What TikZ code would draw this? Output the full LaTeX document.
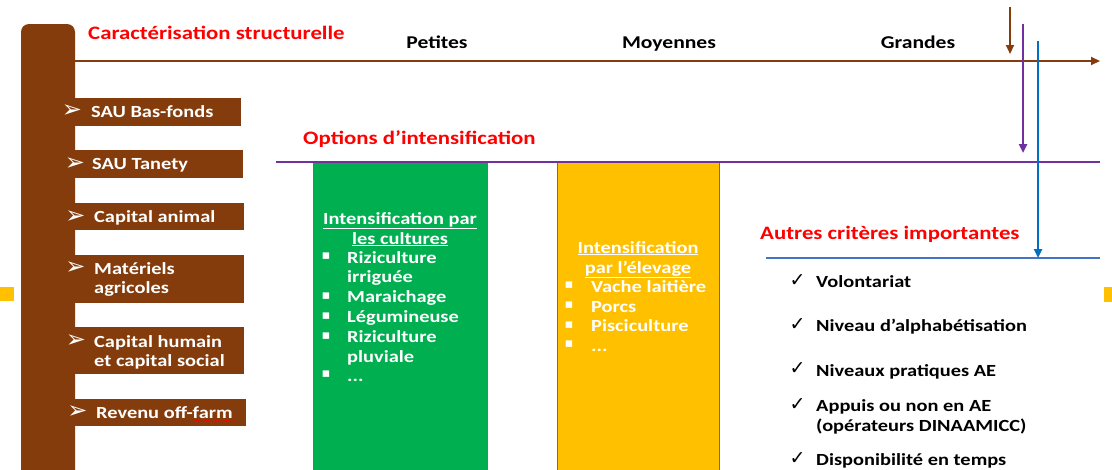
\documentclass[tikz,border=0pt]{standalone}
\usepackage{fontspec}
\setmainfont{Carlito}[FakeStretch=1.2]
\newfontfamily\symfont{DejaVu Sans}
\usetikzlibrary{arrows.meta}
\usetikzlibrary{decorations.pathmorphing}
\pgfdeclarelayer{edgelayer}
\pgfdeclarelayer{nodelayer}
\pgfsetlayers{edgelayer,nodelayer,main}
\definecolor{brun}{HTML}{843C0C}
\definecolor{violetopt}{HTML}{7030A0}
\definecolor{bleuaxe}{HTML}{0070C0}
\definecolor{bleuligne}{HTML}{4472C4}
\definecolor{vertcult}{HTML}{00B050}
\definecolor{jauneelev}{HTML}{FFC000}
\tikzstyle{none} = []
\tikzstyle{titre rouge}=[text=red, font=\bfseries\fontsize{19}{23}\selectfont, inner sep=0pt, anchor=base west]
\tikzstyle{classe}=[font=\bfseries\fontsize{18}{22}\selectfont, inner sep=0pt, anchor=base]
\tikzstyle{blanc}=[text=white, font=\bfseries\fontsize{17}{20}\selectfont, inner sep=0pt, anchor=base west]
\tikzstyle{blanc centre}=[text=white, font=\bfseries\fontsize{17}{20}\selectfont, inner sep=0pt, anchor=base]
\tikzstyle{noir}=[text=black, font=\bfseries\fontsize{17}{20}\selectfont, inner sep=0pt, anchor=base west]
\tikzstyle{fleche}=[text=white, font=\symfont\fontsize{24}{24}\selectfont, inner sep=0pt]
\tikzstyle{carre}=[text=white, font=\symfont\fontsize{13}{13}\selectfont, inner sep=0pt]
\tikzstyle{coche}=[text=black, font=\symfont\fontsize{19}{19}\selectfont, inner sep=0pt]
\tikzstyle{axe brun}=[-{Triangle[length=9pt,width=8pt]}, line width=2pt, brun]
\tikzstyle{axe violet}=[-{Triangle[length=9pt,width=8pt]}, line width=2.5pt, violetopt]
\tikzstyle{axe bleu}=[-{Triangle[length=9pt,width=8pt]}, line width=2.5pt, bleuaxe]

\begin{document}
\begin{tikzpicture}[x=1pt, y=-1pt]
	\useasboundingbox (0, 0) rectangle (1112, 469);
	\begin{pgfonlayer}{edgelayer}
		% barre et rubriques
		\fill [brun, rounded corners=8pt] (21, 24) rectangle (75, 490);
		\fill [brun] (75, 98) rectangle (241, 126);
		\fill [brun] (75, 150) rectangle (243, 178);
		\fill [brun] (75, 203) rectangle (244, 230);
		\fill [brun] (75, 255) rectangle (244, 303);
		\fill [brun] (75, 327) rectangle (244, 374);
		\fill [brun] (75, 399) rectangle (246, 426);
		% options
		\filldraw [fill=vertcult, draw=bleuligne, line width=0.5pt] (313, 161) rectangle (487, 475);
		\filldraw [fill=jauneelev, draw=bleuligne, line width=0.5pt] (557, 161) rectangle (719, 475);
		\fill [jauneelev] (0, 287) rectangle (14, 301);
		\fill [jauneelev] (1104, 287) rectangle (1115, 302);
	\end{pgfonlayer}
	\begin{pgfonlayer}{nodelayer}
		\node [style=none] (0) at (75, 61) {};
		\node [style=none] (1) at (1100, 61) {};
		\node [style=none] (2) at (276, 162) {};
		\node [style=none] (3) at (1100, 162) {};
		\node [style=none] (4) at (766, 258) {};
		\node [style=none] (5) at (1100, 258) {};
		\node [style=none] (6) at (1010, 7) {};
		\node [style=none] (7) at (1010, 54) {};
		\node [style=none] (8) at (1023, 24) {};
		\node [style=none] (9) at (1023, 153) {};
		\node [style=none] (10) at (1038, 41) {};
		\node [style=none] (11) at (1038, 258) {};
		\node [style=titre rouge] (12) at (88, 39) {Caractérisation structurelle};
		\node [style=titre rouge] (13) at (303, 144) {Options d’intensification};
		\node [style=titre rouge] (14) at (760, 239) {Autres critères importantes};
		\node [style=classe] (15) at (437, 48) {Petites};
		\node [style=classe] (16) at (669, 48) {Moyennes};
		\node [style=classe] (17) at (918, 48) {Grandes};
		\node [style=fleche] (18) at (72, 111.5) {➢};
		\node [style=blanc] (19) at (91, 117) {SAU Bas-fonds};
		\node [style=fleche] (20) at (75, 164) {➢};
		\node [style=blanc] (21) at (92, 169) {SAU Tanety};
		\node [style=fleche] (22) at (75.5, 217) {➢};
		\node [style=blanc] (23) at (94, 222) {Capital animal};
		\node [style=fleche] (24) at (75.5, 268.5) {➢};
		\node [style=blanc] (25) at (94, 274) {Matériels};
		\node [style=blanc] (26) at (94, 293.5) {agricoles};
		\node [style=fleche] (27) at (76, 341.5) {➢};
		\node [style=blanc] (28) at (94, 347) {Capital humain};
		\node [style=blanc] (29) at (94, 366.5) {et capital social};
		\node [style=fleche] (30) at (77.5, 412.5) {➢};
		\node [style=blanc] (31) at (96, 418) {Revenu off-farm};
		\node [style=none] (32) at (193, 421) {};
		\node [style=none] (33) at (235, 421) {};
		\node [style=blanc centre] (34) at (400, 224) {\underline{Intensification par}};
		\node [style=blanc centre] (35) at (400, 244) {\underline{les cultures}};
		\node [style=carre] (36) at (326, 256.5) {▪};
		\node [style=blanc] (37) at (347, 263) {Riziculture};
		\node [style=blanc] (38) at (347, 282.5) {irriguée};
		\node [style=carre] (39) at (326, 296) {▪};
		\node [style=blanc] (40) at (347, 302.5) {Maraichage};
		\node [style=carre] (41) at (326, 316) {▪};
		\node [style=blanc] (42) at (347, 322.5) {Légumineuse};
		\node [style=carre] (43) at (326, 336) {▪};
		\node [style=blanc] (44) at (347, 342.5) {Riziculture};
		\node [style=blanc] (45) at (347, 362) {pluviale};
		\node [style=carre] (46) at (326, 374) {▪};
		\node [style=blanc] (47) at (347, 381) {...};
		\node [style=blanc centre] (48) at (638, 253) {\underline{Intensification}};
		\node [style=blanc centre] (49) at (638, 273) {\underline{par l’élevage}};
		\node [style=carre] (50) at (569, 285.5) {▪};
		\node [style=blanc] (51) at (591, 292) {Vache laitière};
		\node [style=carre] (52) at (569, 305.5) {▪};
		\node [style=blanc] (53) at (591, 312) {Porcs};
		\node [style=carre] (54) at (569, 325) {▪};
		\node [style=blanc] (55) at (591, 331.5) {Pisciculture};
		\node [style=carre] (56) at (569, 344) {▪};
		\node [style=blanc] (57) at (591, 351) {...};
		\node [style=coche] (58) at (797.5, 280.5) {✓};
		\node [style=noir] (59) at (816, 287) {Volontariat};
		\node [style=coche] (60) at (797.5, 324.5) {✓};
		\node [style=noir] (61) at (816, 331) {Niveau d’alphabétisation};
		\node [style=coche] (62) at (797.5, 369) {✓};
		\node [style=noir] (63) at (816, 376) {Niveaux pratiques AE};
		\node [style=coche] (64) at (797.5, 405) {✓};
		\node [style=noir] (65) at (816, 411.5) {Appuis ou non en AE};
		\node [style=noir] (66) at (816, 431.5) {(opérateurs DINAAMICC)};
		\node [style=coche] (67) at (797.5, 458.5) {✓};
		\node [style=noir] (68) at (816, 465.5) {Disponibilité en temps};
	\end{pgfonlayer}
	\begin{pgfonlayer}{edgelayer}
		\draw [style=axe brun] (0.center) to (1.center);
		\draw [violetopt, line width=2.5pt] (2.center) to (3.center);
		\draw [bleuligne, line width=2pt] (4.center) to (5.center);
		\draw [style=axe brun] (6.center) to (7.center);
		\draw [style=axe violet] (8.center) to (9.center);
		\draw [style=axe bleu] (10.center) to (11.center);
		\draw [red, line width=0.6pt, decorate, decoration={snake, amplitude=0.6pt, segment length=2.5pt}] (32.center) to (33.center);
	\end{pgfonlayer}
\end{tikzpicture}
\end{document}
